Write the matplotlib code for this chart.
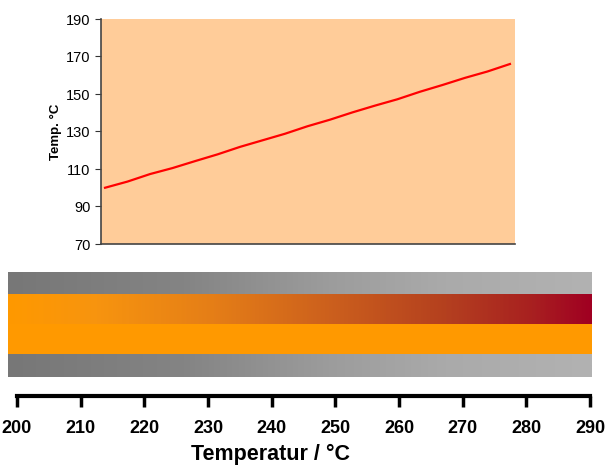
import numpy as np
import matplotlib.pyplot as plt
from matplotlib.colors import LinearSegmentedColormap

plt.rcParams['font.family'] = ['Liberation Sans', 'DejaVu Sans']

# top chart: temperature along the channel
pos = np.linspace(0, 1, 19)
temp = [100, 103.3, 107.3, 110.5, 114.2, 117.8, 121.8, 125.3, 128.8, 132.8,
        136.3, 140.2, 143.8, 147.2, 151.2, 154.8, 158.6, 162, 166]

y_ticks = [70, 90, 110, 130, 150, 170, 190]
scale_ticks = [200, 210, 220, 230, 240, 250, 260, 270, 280, 290]

gray_stops = [(0.0, "#777777"), (0.3, "#848484"), (0.55, "#9c9c9c"), (0.75, "#aaaaaa"), (1.0, "#b2b2b2")]
hot_stops = [(0.0, "#ff9900"), (0.15, "#f7940f"), (0.35, "#e57e17"), (0.55, "#cc601d"),
             (0.75, "#b4401f"), (0.9, "#a82020"), (1.0, "#a00022")]

fig = plt.figure(figsize=(6.14, 4.65), dpi=100)

ax = fig.add_axes([101/614, 1-244/465, 414/614, 225/465])
ax.set_facecolor("#ffcc99")
ax.plot(pos, temp, color="#ff0000", lw=1.6)
ax.set_xlim(-0.01, 1.0125)
ax.set_ylim(70, 190)
ax.set_yticks(y_ticks)
ax.set_xticks([])
ax.tick_params(axis="y", labelsize=10.5, length=4, color="#333333")
for s in ["top", "right"]:
    ax.spines[s].set_visible(False)
ax.spines["left"].set_color("#444444")
ax.spines["bottom"].set_color("#444444")
ax.spines["left"].set_linewidth(1.2)
ax.spines["bottom"].set_linewidth(1.2)
ax.set_ylabel("Temp. °C", fontsize=9.5, fontweight="bold", labelpad=3)

# bar with gradients
bx = fig.add_axes([8/614, 1-377/465, 584/614, 105/465])
gray = LinearSegmentedColormap.from_list("g", gray_stops)
hot = LinearSegmentedColormap.from_list("h", hot_stops)
grad = np.linspace(0, 1, 400)[None, :]
bx.imshow(grad, cmap=gray, extent=[0, 1, 0, 23], aspect="auto")
bx.imshow(grad, cmap=gray, extent=[0, 1, 82, 105], aspect="auto")
bx.imshow(grad, cmap=hot, extent=[0, 1, 53, 82], aspect="auto")
bx.axhspan(23, 53, color="#ff9900", lw=0)
bx.set_xlim(0, 1)
bx.set_ylim(0, 105)
bx.axis("off")

# scale axis
sx = fig.add_axes([17/614, 1-396/465, 573/614, 0.001])
sx.set_xlim(200, 290)
sx.set_xticks(scale_ticks)
sx.set_yticks([])
for s in ["top", "right", "left"]:
    sx.spines[s].set_visible(False)
sx.spines["bottom"].set_linewidth(3)
sx.tick_params(axis="x", length=8, width=2.5, pad=9, labelsize=13)
for t in sx.get_xticklabels():
    t.set_fontweight("bold")
sx.set_facecolor("none")
fig.text(0.44, 0.0, "Temperatur / °C", fontsize=15.5, fontweight="bold",
         ha="center", va="bottom")

fig.savefig("out.png", dpi=100)
